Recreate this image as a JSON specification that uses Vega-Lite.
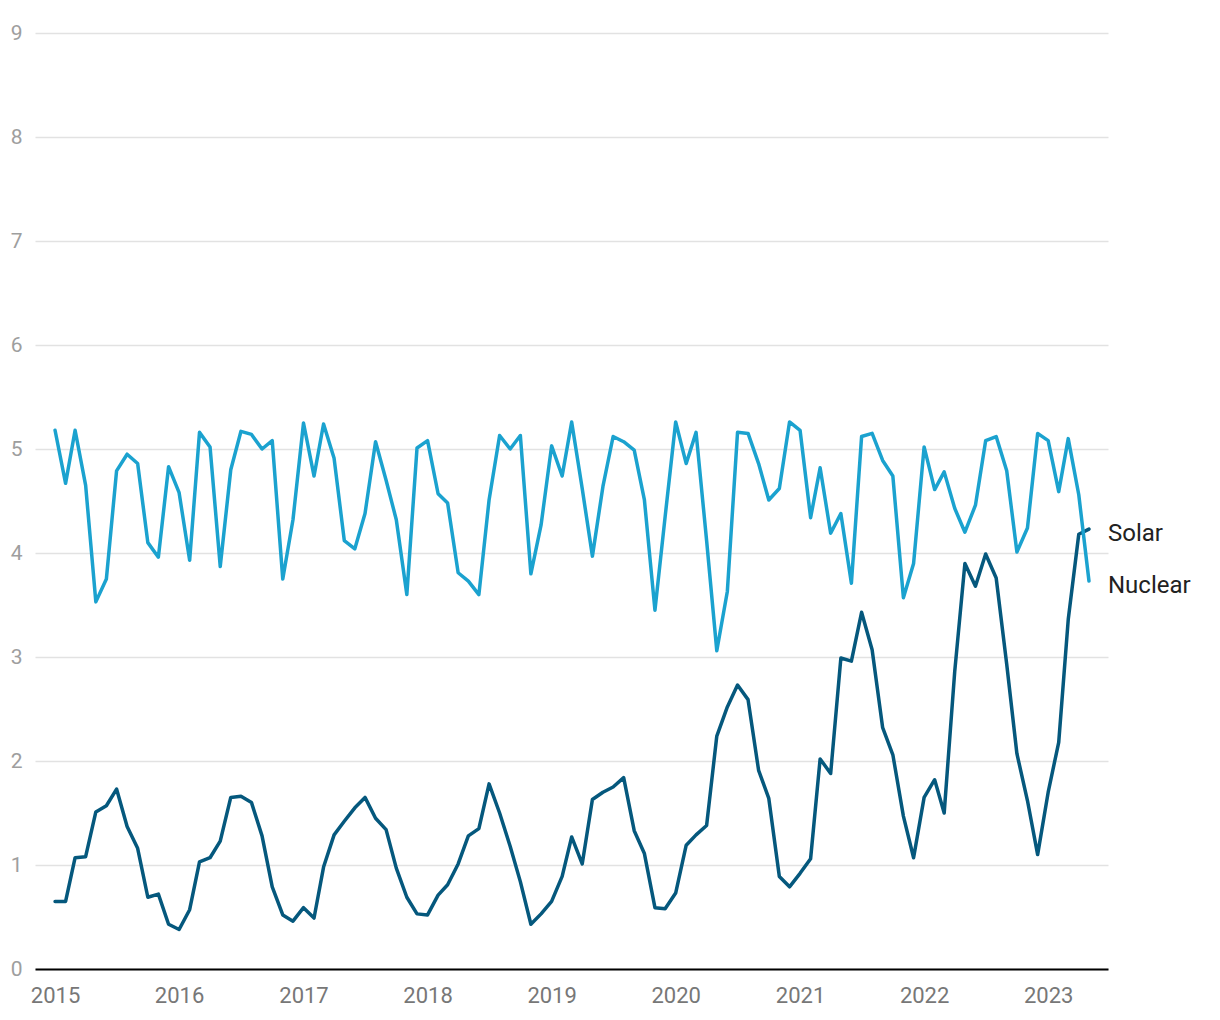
{
  "$schema": "https://vega.github.io/schema/vega-lite/v6.json",
  "width": 1073,
  "height": 936,
  "autosize": {"type": "none"},
  "padding": {"left": 35, "top": 33, "right": 112, "bottom": 51},
  "background": "white",
  "config": {
    "view": {"stroke": null},
    "font": "Roboto",
    "axis": {"labelFont": "Roboto", "titleFont": "Roboto"}
  },
  "datasets": {
    "d": [
      {"date":"2015-01-01","Solar":0.65,"Nuclear":5.18},
      {"date":"2015-02-01","Solar":0.65,"Nuclear":4.67},
      {"date":"2015-03-01","Solar":1.07,"Nuclear":5.18},
      {"date":"2015-04-01","Solar":1.08,"Nuclear":4.65},
      {"date":"2015-05-01","Solar":1.51,"Nuclear":3.53},
      {"date":"2015-06-01","Solar":1.57,"Nuclear":3.75},
      {"date":"2015-07-01","Solar":1.73,"Nuclear":4.79},
      {"date":"2015-08-01","Solar":1.37,"Nuclear":4.95},
      {"date":"2015-09-01","Solar":1.16,"Nuclear":4.86},
      {"date":"2015-10-01","Solar":0.69,"Nuclear":4.10},
      {"date":"2015-11-01","Solar":0.72,"Nuclear":3.96},
      {"date":"2015-12-01","Solar":0.43,"Nuclear":4.83},
      {"date":"2016-01-01","Solar":0.38,"Nuclear":4.58},
      {"date":"2016-02-01","Solar":0.57,"Nuclear":3.93},
      {"date":"2016-03-01","Solar":1.03,"Nuclear":5.16},
      {"date":"2016-04-01","Solar":1.07,"Nuclear":5.02},
      {"date":"2016-05-01","Solar":1.23,"Nuclear":3.87},
      {"date":"2016-06-01","Solar":1.65,"Nuclear":4.80},
      {"date":"2016-07-01","Solar":1.66,"Nuclear":5.17},
      {"date":"2016-08-01","Solar":1.60,"Nuclear":5.14},
      {"date":"2016-09-01","Solar":1.28,"Nuclear":5.00},
      {"date":"2016-10-01","Solar":0.79,"Nuclear":5.08},
      {"date":"2016-11-01","Solar":0.52,"Nuclear":3.75},
      {"date":"2016-12-01","Solar":0.46,"Nuclear":4.32},
      {"date":"2017-01-01","Solar":0.59,"Nuclear":5.25},
      {"date":"2017-02-01","Solar":0.49,"Nuclear":4.74},
      {"date":"2017-03-01","Solar":0.98,"Nuclear":5.24},
      {"date":"2017-04-01","Solar":1.29,"Nuclear":4.91},
      {"date":"2017-05-01","Solar":1.42,"Nuclear":4.12},
      {"date":"2017-06-01","Solar":1.55,"Nuclear":4.04},
      {"date":"2017-07-01","Solar":1.65,"Nuclear":4.38},
      {"date":"2017-08-01","Solar":1.45,"Nuclear":5.07},
      {"date":"2017-09-01","Solar":1.34,"Nuclear":4.70},
      {"date":"2017-10-01","Solar":0.97,"Nuclear":4.32},
      {"date":"2017-11-01","Solar":0.69,"Nuclear":3.60},
      {"date":"2017-12-01","Solar":0.53,"Nuclear":5.01},
      {"date":"2018-01-01","Solar":0.52,"Nuclear":5.08},
      {"date":"2018-02-01","Solar":0.71,"Nuclear":4.57},
      {"date":"2018-03-01","Solar":0.81,"Nuclear":4.48},
      {"date":"2018-04-01","Solar":1.01,"Nuclear":3.81},
      {"date":"2018-05-01","Solar":1.28,"Nuclear":3.73},
      {"date":"2018-06-01","Solar":1.35,"Nuclear":3.60},
      {"date":"2018-07-01","Solar":1.78,"Nuclear":4.51},
      {"date":"2018-08-01","Solar":1.50,"Nuclear":5.13},
      {"date":"2018-09-01","Solar":1.18,"Nuclear":5.00},
      {"date":"2018-10-01","Solar":0.84,"Nuclear":5.13},
      {"date":"2018-11-01","Solar":0.43,"Nuclear":3.80},
      {"date":"2018-12-01","Solar":0.53,"Nuclear":4.27},
      {"date":"2019-01-01","Solar":0.65,"Nuclear":5.03},
      {"date":"2019-02-01","Solar":0.89,"Nuclear":4.74},
      {"date":"2019-03-01","Solar":1.27,"Nuclear":5.26},
      {"date":"2019-04-01","Solar":1.01,"Nuclear":4.62},
      {"date":"2019-05-01","Solar":1.63,"Nuclear":3.97},
      {"date":"2019-06-01","Solar":1.70,"Nuclear":4.64},
      {"date":"2019-07-01","Solar":1.75,"Nuclear":5.12},
      {"date":"2019-08-01","Solar":1.84,"Nuclear":5.07},
      {"date":"2019-09-01","Solar":1.33,"Nuclear":4.99},
      {"date":"2019-10-01","Solar":1.11,"Nuclear":4.51},
      {"date":"2019-11-01","Solar":0.59,"Nuclear":3.45},
      {"date":"2019-12-01","Solar":0.58,"Nuclear":4.35},
      {"date":"2020-01-01","Solar":0.73,"Nuclear":5.26},
      {"date":"2020-02-01","Solar":1.19,"Nuclear":4.86},
      {"date":"2020-03-01","Solar":1.29,"Nuclear":5.16},
      {"date":"2020-04-01","Solar":1.38,"Nuclear":4.12},
      {"date":"2020-05-01","Solar":2.24,"Nuclear":3.06},
      {"date":"2020-06-01","Solar":2.52,"Nuclear":3.63},
      {"date":"2020-07-01","Solar":2.73,"Nuclear":5.16},
      {"date":"2020-08-01","Solar":2.59,"Nuclear":5.15},
      {"date":"2020-09-01","Solar":1.91,"Nuclear":4.86},
      {"date":"2020-10-01","Solar":1.64,"Nuclear":4.51},
      {"date":"2020-11-01","Solar":0.89,"Nuclear":4.62},
      {"date":"2020-12-01","Solar":0.79,"Nuclear":5.26},
      {"date":"2021-01-01","Solar":0.92,"Nuclear":5.18},
      {"date":"2021-02-01","Solar":1.06,"Nuclear":4.34},
      {"date":"2021-03-01","Solar":2.02,"Nuclear":4.82},
      {"date":"2021-04-01","Solar":1.88,"Nuclear":4.19},
      {"date":"2021-05-01","Solar":2.99,"Nuclear":4.38},
      {"date":"2021-06-01","Solar":2.96,"Nuclear":3.71},
      {"date":"2021-07-01","Solar":3.43,"Nuclear":5.12},
      {"date":"2021-08-01","Solar":3.07,"Nuclear":5.15},
      {"date":"2021-09-01","Solar":2.32,"Nuclear":4.89},
      {"date":"2021-10-01","Solar":2.06,"Nuclear":4.74},
      {"date":"2021-11-01","Solar":1.47,"Nuclear":3.57},
      {"date":"2021-12-01","Solar":1.07,"Nuclear":3.90},
      {"date":"2022-01-01","Solar":1.65,"Nuclear":5.02},
      {"date":"2022-02-01","Solar":1.82,"Nuclear":4.61},
      {"date":"2022-03-01","Solar":1.50,"Nuclear":4.78},
      {"date":"2022-04-01","Solar":2.86,"Nuclear":4.43},
      {"date":"2022-05-01","Solar":3.90,"Nuclear":4.20},
      {"date":"2022-06-01","Solar":3.68,"Nuclear":4.46},
      {"date":"2022-07-01","Solar":3.99,"Nuclear":5.08},
      {"date":"2022-08-01","Solar":3.76,"Nuclear":5.12},
      {"date":"2022-09-01","Solar":2.93,"Nuclear":4.79},
      {"date":"2022-10-01","Solar":2.07,"Nuclear":4.01},
      {"date":"2022-11-01","Solar":1.62,"Nuclear":4.24},
      {"date":"2022-12-01","Solar":1.10,"Nuclear":5.15},
      {"date":"2023-01-01","Solar":1.70,"Nuclear":5.08},
      {"date":"2023-02-01","Solar":2.18,"Nuclear":4.59},
      {"date":"2023-03-01","Solar":3.36,"Nuclear":5.10},
      {"date":"2023-04-01","Solar":4.18,"Nuclear":4.56},
      {"date":"2023-05-01","Solar":4.23,"Nuclear":3.73}
    ]
  },
  "data": {"name": "d"},
  "transform": [
    {"fold": ["Solar", "Nuclear"], "as": ["series", "value"]}
  ],
  "encoding": {
    "x": {
      "field": "date",
      "type": "temporal",
      "scale": {"type": "utc", "domain": ["2014-11-03", "2023-06-26"]},
      "axis": {
        "title": null,
        "format": "%Y",
        "tickCount": {"interval": "year", "step": 1},
        "grid": false,
        "ticks": false,
        "domain": true,
        "domainColor": "#000000",
        "domainWidth": 2,
        "labelFontSize": 22,
        "labelColor": "#777777",
        "labelPadding": 16,
        "labelFlush": false
      }
    },
    "y": {
      "field": "value",
      "type": "quantitative",
      "scale": {"domain": [0, 9], "nice": false, "zero": true},
      "axis": {
        "title": null,
        "values": [0, 1, 2, 3, 4, 5, 6, 7, 8, 9],
        "grid": true,
        "gridColor": "#e2e2e2",
        "gridWidth": 1.5,
        "domain": false,
        "ticks": false,
        "labelFontSize": 21,
        "labelColor": "#9e9e9e",
        "labelPadding": 13,
        "labelAlign": "right",
        "labelBaseline": "middle"
      }
    },
    "color": {
      "field": "series",
      "type": "nominal",
      "scale": {"domain": ["Solar", "Nuclear"], "range": ["#05587d", "#1ba2cf"]},
      "legend": null
    }
  },
  "layer": [
    {
      "mark": {"type": "line", "strokeWidth": 3.5, "strokeJoin": "round", "strokeCap": "round"}
    },
    {
      "transform": [{"filter": "time(datum.date) >= time(datetime(2023, 3, 15))"}],
      "mark": {"type": "text", "align": "left", "baseline": "middle", "dx": 19, "dy": 5, "fontSize": 24, "font": "Roboto", "color": "#222222"},
      "encoding": {
        "text": {"field": "series"},
        "color": {"value": "#222222"}
      }
    }
  ]
}
